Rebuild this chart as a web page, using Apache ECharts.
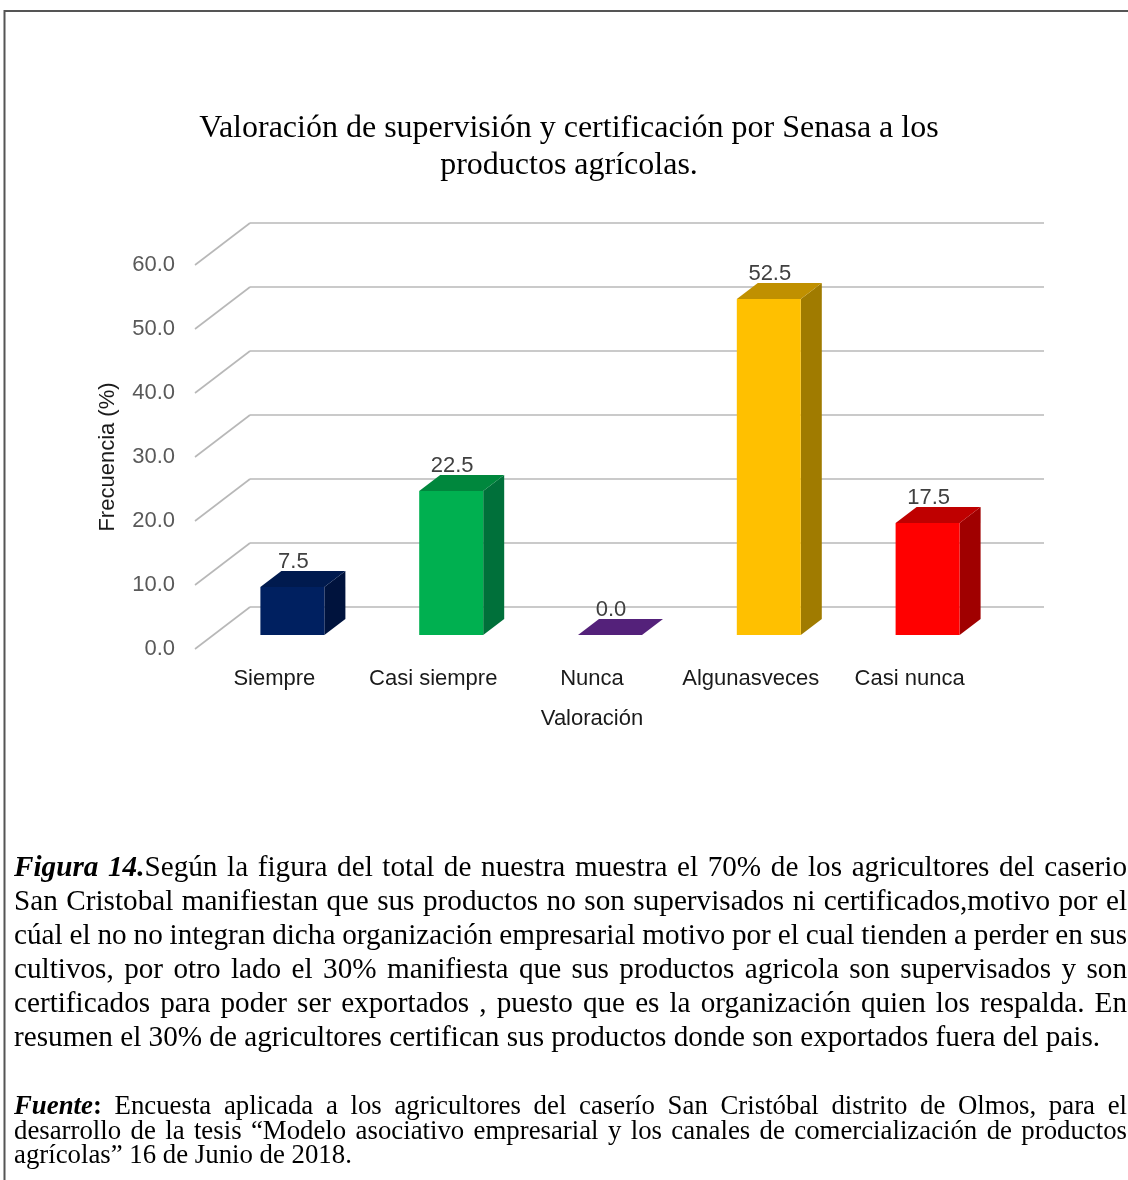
<!DOCTYPE html>
<html><head><meta charset="utf-8">
<script src="https://cdn.jsdelivr.net/npm/echarts@6/dist/echarts.min.js"></script>
<style>html,body{margin:0;padding:0;background:#fff}#c{width:1128px;height:1180px}</style>
</head><body><div id="c"></div>
<script>
// ---------- data ----------
const categories = ['Siempre', 'Casi siempre', 'Nunca', 'Algunasveces', 'Casi nunca'];
const values = [7.5, 22.5, 0.0, 52.5, 17.5];
const yTicks = [0, 10, 20, 30, 40, 50, 60];
const frontColors = ['#002060', '#00b050', '#542179', '#ffc000', '#ff0000'];
const topColors = ['#001a4e', '#00873d', '#54217a', '#c09000', '#bf0000'];
const sideColors = ['#00133d', '#00703a', '#3f1a5c', '#a07b00', '#a00000'];
const titleText = 'Valoración de supervisión y certificación por Senasa a los\nproductos agrícolas.';
const yAxisName = 'Frecuencia (%)';
const xAxisName = 'Valoración';
const captionLines = [
  [['bi', 'Figura 14.'], ['n', 'Según la figura del total de nuestra muestra el 70% de los agricultores del caserio']],
  [['n', 'San Cristobal manifiestan que sus productos no son supervisados ni certificados,motivo por el']],
  [['n', 'cúal el no no integran dicha organización empresarial motivo por el cual tienden a perder en sus']],
  [['n', 'cultivos, por otro lado el 30% manifiesta que sus productos agricola son supervisados y son']],
  [['n', 'certificados para poder ser exportados , puesto que es la organización quien los respalda. En']],
  [['n', 'resumen el 30% de agricultores certifican sus productos donde son exportados fuera del pais.']]
];
const sourceLines = [
  [['bi', 'Fuente'], ['b', ':'], ['n', ' Encuesta aplicada a los agricultores del caserío San Cristóbal distrito de Olmos, para el']],
  [['n', 'desarrollo de la tesis “Modelo asociativo empresarial y los canales de comercialización de productos']],
  [['n', 'agrícolas” 16 de Junio de 2018.']]
];

// ---------- styling constants ----------
const DEPTH_X = 55, DEPTH_Y = -42;      // full floor depth
const BAR_OX = 18, BAR_OY = -14;        // bar front plane offset
const BAR_DX = 21, BAR_DY = -16;        // bar depth
const SANS = '"Liberation Sans", Arial, sans-serif';
const SERIF = '"Liberation Serif", "Times New Roman", serif';

const ctx = document.createElement('canvas').getContext('2d');
function mw(t, font) { ctx.font = font; return ctx.measureText(t).width; }
function fontFor(style, size) {
  const w = style === 'bi' ? 'italic bold ' : (style === 'b' ? 'bold ' : '');
  return w + size + 'px ' + SERIF;
}
function fitSize(line, target) {
  const txt = line.map(r => r[1]).join('');
  return Math.round(100 * target / mw(txt, fontFor('n', 100)) * 10) / 10;
}
function layoutLines(lines, size, yStart, lh, xL, xR, elements) {
  lines.forEach((line, li) => {
    const words = [];
    let cur = null;
    line.forEach(([st, txt]) => {
      const parts = txt.split(' ');
      parts.forEach((p, pi) => {
        if (pi > 0 || !cur) { cur = []; words.push(cur); }
        if (p.length) cur.push([st, p]);
      });
    });
    const ws = words.filter(w => w.length);
    const widths = ws.map(w => w.reduce((s, [st, p]) => s + mw(p, fontFor(st, size)), 0));
    const total = widths.reduce((a, b) => a + b, 0);
    const justify = li < lines.length - 1;
    const gap = justify ? (xR - xL - total) / (ws.length - 1) : mw(' ', fontFor('n', size));
    let x = xL;
    const y = yStart + li * lh;
    ws.forEach((w) => {
      w.forEach(([st, p]) => {
        elements.push({ type: 'text', x: x, y: y, silent: true,
          style: { text: p, font: fontFor(st, size), fill: '#000', align: 'left', verticalAlign: 'middle' } });
        x += mw(p, fontFor(st, size));
      });
      x += gap;
    });
  });
}

const graphicEls = [
  { type: 'polyline', silent: true, shape: { points: [[4.5, 1180], [4.5, 11], [1128, 11]] },
    style: { stroke: '#555', lineWidth: 2, fill: null } }
];
const capSize = fitSize(captionLines[5], 1086);
layoutLines(captionLines, capSize, 868, 34, 14, 1127, graphicEls);
const srcSize = fitSize(sourceLines[2], 338);
layoutLines(sourceLines, srcSize, 1107, 24.6, 14, 1127, graphicEls);

const chart = echarts.init(document.getElementById('c'));
chart.setOption({
  backgroundColor: '#fff',
  animation: false,
  title: {
    text: titleText, left: 569, textAlign: 'center', top: 110, padding: 0,
    textStyle: { fontFamily: SERIF, fontSize: 32, fontWeight: 'normal', color: '#000', lineHeight: 37 }
  },
  grid: { left: 195, right: 139, top: 265, bottom: 531, containLabel: false },
  xAxis: {
    type: 'category', data: categories,
    axisLine: { show: false }, axisTick: { show: false }, splitLine: { show: false },
    axisLabel: { interval: 0, margin: 19, color: '#1a1a1a', fontSize: 22, fontFamily: SANS },
    name: xAxisName, nameLocation: 'middle', nameGap: 59,
    nameTextStyle: { color: '#1a1a1a', fontSize: 22, fontFamily: SANS }
  },
  yAxis: {
    type: 'value', min: 0, max: 60, interval: 10,
    axisLine: { show: false }, axisTick: { show: false }, splitLine: { show: false },
    axisLabel: { margin: 20, color: '#595959', fontSize: 22, fontFamily: SANS, formatter: v => v.toFixed(1) },
    name: yAxisName, nameLocation: 'middle', nameGap: 76,
    nameTextStyle: { color: '#1a1a1a', fontSize: 22, fontFamily: SANS }
  },
  graphic: graphicEls,
  series: [
    {
      type: 'custom', name: 'grid', silent: true, z: 1,
      data: yTicks.map(v => [0, v]),
      renderItem: function (params, api) {
        const cs = params.coordSys;
        const y = api.coord([0, api.value(1)])[1];
        const x0 = cs.x, x1 = cs.x + cs.width;
        const ls = { stroke: '#b8b8b8', lineWidth: 1.6 };
        return { type: 'group', children: [
          { type: 'line', shape: { x1: x0, y1: y, x2: x0 + DEPTH_X, y2: y + DEPTH_Y }, style: ls },
          { type: 'line', shape: { x1: x0 + DEPTH_X, y1: y + DEPTH_Y, x2: x1 + DEPTH_X, y2: y + DEPTH_Y }, style: ls }
        ] };
      }
    },
    {
      type: 'custom', name: 'Frecuencia', z: 3,
      data: values.map((v, i) => [i, v]),
      renderItem: function (params, api) {
        const i = api.value(0), v = api.value(1);
        const base = api.coord([i, 0]);
        const top = api.coord([i, v]);
        const w = api.size([1, 0])[0] * 0.403;
        const fx = base[0] - w / 2 + BAR_OX;
        const fy0 = base[1] + BAR_OY, fy1 = top[1] + BAR_OY;
        const children = [];
        if (fy0 - fy1 > 0.5) {
          children.push({ type: 'polygon', shape: { points: [[fx + w, fy1], [fx + w, fy0], [fx + w + BAR_DX, fy0 + BAR_DY], [fx + w + BAR_DX, fy1 + BAR_DY]] },
            style: { fill: sideColors[i] } });
          children.push({ type: 'rect', shape: { x: fx, y: fy1, width: w, height: fy0 - fy1 }, style: { fill: frontColors[i] } });
        }
        children.push({ type: 'polygon', shape: { points: [[fx, fy1], [fx + w, fy1], [fx + w + BAR_DX, fy1 + BAR_DY], [fx + BAR_DX, fy1 + BAR_DY]] },
          style: { fill: topColors[i] } });
        children.push({ type: 'text', x: fx + w / 2 + 1, y: fy1 + BAR_DY - 9.5,
          style: { text: v.toFixed(1), fill: '#404040', font: '22px ' + SANS, align: 'center', verticalAlign: 'middle' } });
        return { type: 'group', children: children };
      }
    }
  ]
});
</script>
</body></html>
